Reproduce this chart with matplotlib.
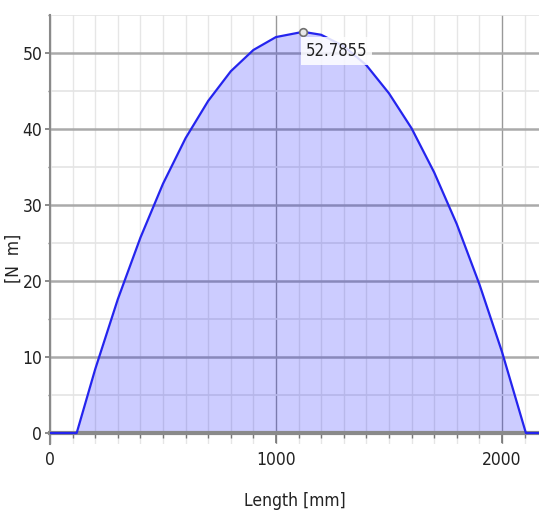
import numpy as np
import matplotlib
matplotlib.use('Agg')
import matplotlib.pyplot as plt
from matplotlib.ticker import MultipleLocator

plt.rcParams['font.family'] = ['DejaVu Sans']
plt.rcParams['font.stretch'] = 'condensed'

# moment curve
length_mm = [0, 118, 200, 300, 400, 500, 600, 700, 800, 900, 1000, 1120,
             1200, 1300, 1400, 1500, 1600, 1700, 1800, 1900, 2000, 2106, 2170]
moment_nm = [0, 0, 8.4, 17.6, 25.7, 32.8, 38.8, 43.7, 47.6, 50.4, 52.1, 52.79,
             52.4, 50.9, 48.4, 44.7, 40.1, 34.3, 27.5, 19.6, 10.7, 0, 0]
peak_x = 1120
peak_y = 52.7855

fig = plt.figure(figsize=(5.39, 5.11), dpi=100)
ax = fig.add_axes([0.0928, 0.1303, 0.9072, 0.8403])

ax.fill_between(length_mm, moment_nm, 0, color='#0000ff', alpha=0.2, linewidth=0, zorder=2)
ax.plot(length_mm, moment_nm, color='#2424ee', linewidth=1.6, zorder=4)

ax.plot([peak_x], [peak_y], marker='o', markersize=5.5, markerfacecolor='#e8e8e8',
        markeredgecolor='#707070', markeredgewidth=1.2, zorder=6, clip_on=False)
ax.annotate('{:.4f}'.format(peak_y), xy=(peak_x, peak_y), xytext=(2, -14),
            textcoords='offset points', fontsize=12, color='#222222',
            ha='left', va='center', zorder=7,
            bbox=dict(boxstyle='square,pad=0.3', fc='white', ec='none', alpha=0.85))

ax.set_xlim(0, 2164)
ax.set_ylim(-1.5, 55)

ax.xaxis.set_major_locator(MultipleLocator(1000))
ax.xaxis.set_minor_locator(MultipleLocator(100))
ax.yaxis.set_major_locator(MultipleLocator(10))
ax.yaxis.set_minor_locator(MultipleLocator(5))

ax.grid(which='major', axis='y', color='#aaaaaa', linewidth=1.8, zorder=1)
ax.grid(which='minor', axis='y', color='#e4e4e4', linewidth=1.2, zorder=1)
ax.grid(which='major', axis='x', color='#999999', linewidth=1.0, zorder=1)
ax.grid(which='minor', axis='x', color='#e6e6e6', linewidth=1.0, zorder=1)
ax.set_axisbelow(True)

for side in ['top', 'right']:
    ax.spines[side].set_visible(False)
ax.spines['bottom'].set_position(('data', 0))
ax.spines['bottom'].set_color('#8a8a8a')
ax.spines['bottom'].set_linewidth(3)
ax.spines['bottom'].set_zorder(3)
ax.spines['left'].set_color('#8a8a8a')
ax.spines['left'].set_linewidth(1.5)

ax.tick_params(which='major', axis='x', length=7.2, width=1.2, color='#777777', pad=6,
               labelsize=12.5, labelcolor='#222222')
ax.tick_params(which='minor', axis='x', length=3.6, width=1.0, color='#777777')
ax.tick_params(which='major', axis='y', length=3.6, width=1.2, color='#777777', pad=2,
               labelsize=12.5, labelcolor='#222222')
ax.tick_params(which='minor', axis='y', length=1.6, width=1.0, color='#777777')

ax.set_xlabel('Length [mm]', fontsize=12.5, color='#222222')
ax.set_ylabel('[N  m]', fontsize=12.5, color='#222222')
ax.xaxis.set_label_coords(0.5, -0.11)
ax.yaxis.set_label_coords(-0.055, 0.434)

fig.savefig('out.png', dpi=100)
